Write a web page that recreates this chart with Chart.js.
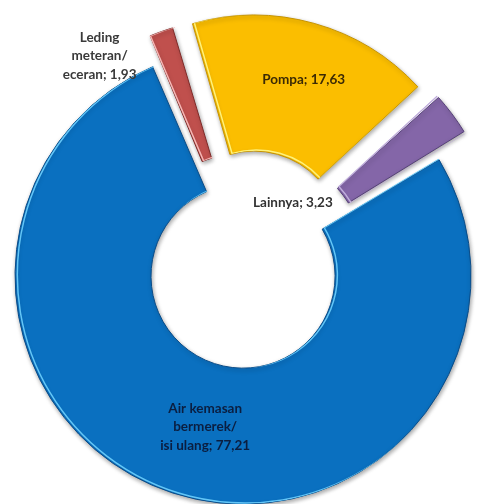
<!DOCTYPE html>
<html>
<head>
<meta charset="UTF-8">
<title>Sumber air minum</title>
<script src="https://cdn.jsdelivr.net/npm/chart.js@4.4.1/dist/chart.umd.min.js"></script>
<style>
  * { margin: 0; padding: 0; }
  body { background: #fff; }
  #wrap { width: 480px; height: 504px; }
</style>
</head>
<body>
<div id="wrap"><canvas id="chart" width="480" height="504"></canvas></div>
<script>
// data, clockwise from the right-hand cut of the blue slice
var categories = [
  ['Air kemasan', 'bermerek/', 'isi ulang'],
  ['Leding', 'meteran/', 'eceran'],
  ['Pompa'],
  ['Lainnya']
];
var values = [77.21, 1.93, 17.63, 3.23];

var colors = ['#0A70C0', '#C0504D', '#FBBE00', '#8466A8'];
var borders = ['#0A4C88', '#7E2A28', '#C69300', '#553F78'];
var lights = ['#63C6F7', '#F6B7B5', '#FFF27A', '#C0ADDC'];
var textColors = ['#0B1E40', '#3A3A3A', '#3B2A05', '#333333'];
// how far each slice is pulled out (chart.js arc offset units)
var explode = [32, 66.8, 125, 84.4];
// label placement: angle shift from slice middle (deg), distance from its centre
var labelPos = [[-3.9, 155.7], [-15.9, 241.8], [1.8, 166], [-23.2, 61]];

function fmt(v) {
  return v.toFixed(2).replace('.', ',');
}

// where chart.js really draws an exploded arc (shifted centre, grown radii)
function arcGeom(arc, i) {
  var p = arc.getProps(['x', 'y', 'startAngle', 'endAngle', 'circumference', 'innerRadius', 'outerRadius'], true);
  var mid = (p.startAngle + p.endAngle) / 2;
  var off = explode[i] / 4;
  var fix = 1 - Math.sin(Math.min(Math.PI, p.circumference || 0));
  var ro = off * fix;
  p.cx = p.x + Math.cos(mid) * off;
  p.cy = p.y + Math.sin(mid) * off;
  p.rOut = p.outerRadius + ro;
  p.rIn = p.innerRadius + ro;
  p.mid = mid;
  return p;
}

function arcPath(ctx, g) {
  ctx.beginPath();
  ctx.arc(g.cx, g.cy, g.rOut, g.startAngle, g.endAngle);
  ctx.arc(g.cx, g.cy, g.rIn, g.endAngle, g.startAngle, true);
  ctx.closePath();
}

var shadowPlugin = {
  id: 'softShadow',
  beforeDatasetsDraw: function(chart) {
    var ctx = chart.ctx;
    ctx.save();
    ctx.shadowColor = 'rgba(0,0,0,0.35)';
    ctx.shadowBlur = 4;
    ctx.shadowOffsetX = 1;
    ctx.shadowOffsetY = 2;
  },
  afterDatasetsDraw: function(chart) {
    chart.ctx.restore();
  }
};

// bevel: light rim on the left / lower-left facing edges of every slice
var bevelPlugin = {
  id: 'bevel',
  afterDatasetsDraw: function(chart) {
    var ctx = chart.ctx;
    chart.getDatasetMeta(0).data.forEach(function(arc, i) {
      var g = arcGeom(arc, i);
      ctx.save();
      arcPath(ctx, g);
      ctx.clip();
      ctx.translate(2.3, -1.1);
      arcPath(ctx, g);
      ctx.strokeStyle = lights[i];
      ctx.lineWidth = 1.5;
      ctx.stroke();
      ctx.restore();
    });
  }
};

var labelPlugin = {
  id: 'sliceLabels',
  afterDatasetsDraw: function(chart) {
    var ctx = chart.ctx;
    var meta = chart.getDatasetMeta(0);
    ctx.save();
    ctx.font = 'bold 13.5px Lato, "Liberation Sans", sans-serif';
    ctx.textAlign = 'center';
    ctx.textBaseline = 'middle';
    meta.data.forEach(function(arc, i) {
      var g = arcGeom(arc, i);
      var a = g.mid + labelPos[i][0] * Math.PI / 180;
      var lx = g.cx + Math.cos(a) * labelPos[i][1];
      var ly = g.cy + Math.sin(a) * labelPos[i][1];
      var lines = categories[i].slice();
      lines[lines.length - 1] += '; ' + fmt(values[i]);
      var lh = 18.5;
      ctx.fillStyle = textColors[i];
      lines.forEach(function(t, k) {
        ctx.fillText(t, lx, ly + (k - (lines.length - 1) / 2) * lh);
      });
    });
    ctx.restore();
  }
};

new Chart(document.getElementById('chart'), {
  type: 'doughnut',
  data: {
    labels: categories.map(function(c) { return c.join(' '); }),
    datasets: [{
      data: values,
      backgroundColor: colors,
      borderColor: borders,
      borderWidth: 1,
      offset: explode,
      clip: false
    }]
  },
  options: {
    responsive: false,
    animation: false,
    rotation: 59,
    radius: 220,
    cutout: '38.2%',
    layout: { padding: { left: 11, top: 33, right: 0, bottom: 0 } },
    plugins: {
      legend: { display: false },
      tooltip: { enabled: false }
    }
  },
  plugins: [shadowPlugin, bevelPlugin, labelPlugin]
});
</script>
</body>
</html>
